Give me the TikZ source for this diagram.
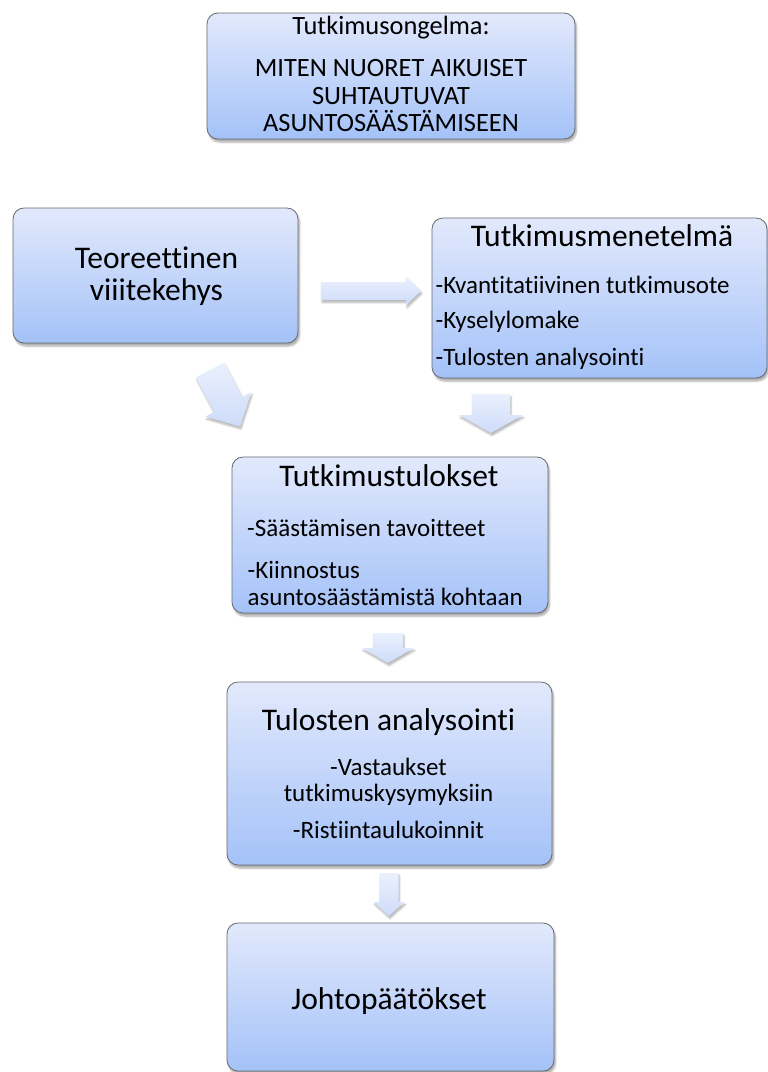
\documentclass[tikz,border=0pt]{standalone}
\usepackage{fontspec}
\setmainfont{Carlito}[Ligatures=NoCommon]
\usetikzlibrary{shadows.blur}
\definecolor{boxtop}{RGB}{226,233,252}
\definecolor{boxbot}{RGB}{164,194,248}
\definecolor{boxedge}{RGB}{105,105,110}
\definecolor{arrtop}{RGB}{234,240,253}
\definecolor{arrbot}{RGB}{206,220,250}

\tikzset{
  stagebox/.style={draw=boxedge, line width=0.8pt, rounded corners=11pt,
    top color=boxtop, bottom color=boxbot, inner sep=0pt,
    blur shadow={shadow xshift=1.5pt, shadow yshift=-3pt, shadow blur steps=6, shadow opacity=35}},
  flowarrow/.style={draw=none, top color=arrtop, bottom color=arrbot,
    blur shadow={shadow xshift=1pt, shadow yshift=-2.5pt, shadow blur steps=5, shadow opacity=30}},
  headtext/.style={inner sep=0pt, font=\fontsize{31.5}{36}\selectfont},
  probtext/.style={inner sep=0pt, font=\fontsize{26.4}{31}\selectfont},
  itemtext/.style={inner sep=0pt, font=\fontsize{25}{30}\selectfont}
}

\begin{document}
\begin{tikzpicture}[x=1pt,y=-1pt]
  \useasboundingbox (0,0) rectangle (768,1072);

  % the six boxes
  \node[stagebox, minimum width=368pt, minimum height=126pt] (prob) at (391,76) {};
  \node[stagebox, minimum width=285pt, minimum height=135pt] (teo) at (155.5,275.5) {};
  \node[stagebox, minimum width=335pt, minimum height=160pt] (met) at (599.5,298) {};
  \node[stagebox, minimum width=316pt, minimum height=156pt] (tul) at (390,535) {};
  \node[stagebox, minimum width=325pt, minimum height=183pt] (ana) at (389.5,773.5) {};
  \node[stagebox, minimum width=327pt, minimum height=148pt] (joh) at (390.5,997) {};

  % block arrows: x/y of tail, angle, length, half body, half head, head length
  \foreach \x/\y/\ang/\len/\bw/\hw/\hl in {321/291/0/100/9/14.5/15, 210/370/-62/64/16/26/25,
      491/394/-90/39/19/32/18, 388/633/-90/30/15/26/15, 389/873/-90/43/9.5/15.5/14} {
    \begin{scope}[shift={(\x,\y)}, rotate=\ang]
      \path[flowarrow] (0,-\bw) -- ({\len-\hl},-\bw) -- ({\len-\hl},-\hw) -- (\len,0)
        -- ({\len-\hl},\hw) -- ({\len-\hl},\bw) -- (0,\bw) -- cycle;
    \end{scope}
  }

  % texts
  \node[probtext, anchor=base] (prob-a) at (391,34.5) {Tutkimusongelma:};
  \node[probtext, anchor=base] (prob-b) at (391,76) {MITEN NUORET AIKUISET};
  \node[probtext, anchor=base] (prob-c) at (391,104) {SUHTAUTUVAT};
  \node[probtext, anchor=base] (prob-d) at (391,131.5) {ASUNTOSÄÄSTÄMISEEN};

  \node[headtext, anchor=base] (teo-a) at (156.5,268) {Teoreettinen};
  \node[headtext, anchor=base] (teo-b) at (156.5,300) {viiitekehys};

  \node[headtext, anchor=base] (met-a) at (602,246.5) {Tutkimusmenetelmä};
  \node[itemtext, anchor=base west] (met-b) at (435.5,293) {-Kvantitatiivinen tutkimusote};
  \node[itemtext, anchor=base west] (met-c) at (435.5,328) {-Kyselylomake};
  \node[itemtext, anchor=base west] (met-d) at (435.5,365) {-Tulosten analysointi};

  \node[headtext, anchor=base] (tul-a) at (389,486.5) {Tutkimustulokset};
  \node[itemtext, anchor=base west] (tul-b) at (247,536) {-Säästämisen tavoitteet};
  \node[itemtext, anchor=base west] (tul-c) at (247.5,578) {-Kiinnostus};
  \node[itemtext, anchor=base west] (tul-d) at (247.5,605) {asuntosäästämistä kohtaan};

  \node[headtext, anchor=base] (ana-a) at (388.5,730) {Tulosten analysointi};
  \node[itemtext, anchor=base] (ana-b) at (388.5,775) {-Vastaukset};
  \node[itemtext, anchor=base] (ana-c) at (388.5,801) {tutkimuskysymyksiin};
  \node[itemtext, anchor=base] (ana-d) at (388.5,838) {-Ristiintaulukoinnit};

  \node[headtext, anchor=base] (joh-a) at (389,1009) {Johtopäätökset};
\end{tikzpicture}
\end{document}
